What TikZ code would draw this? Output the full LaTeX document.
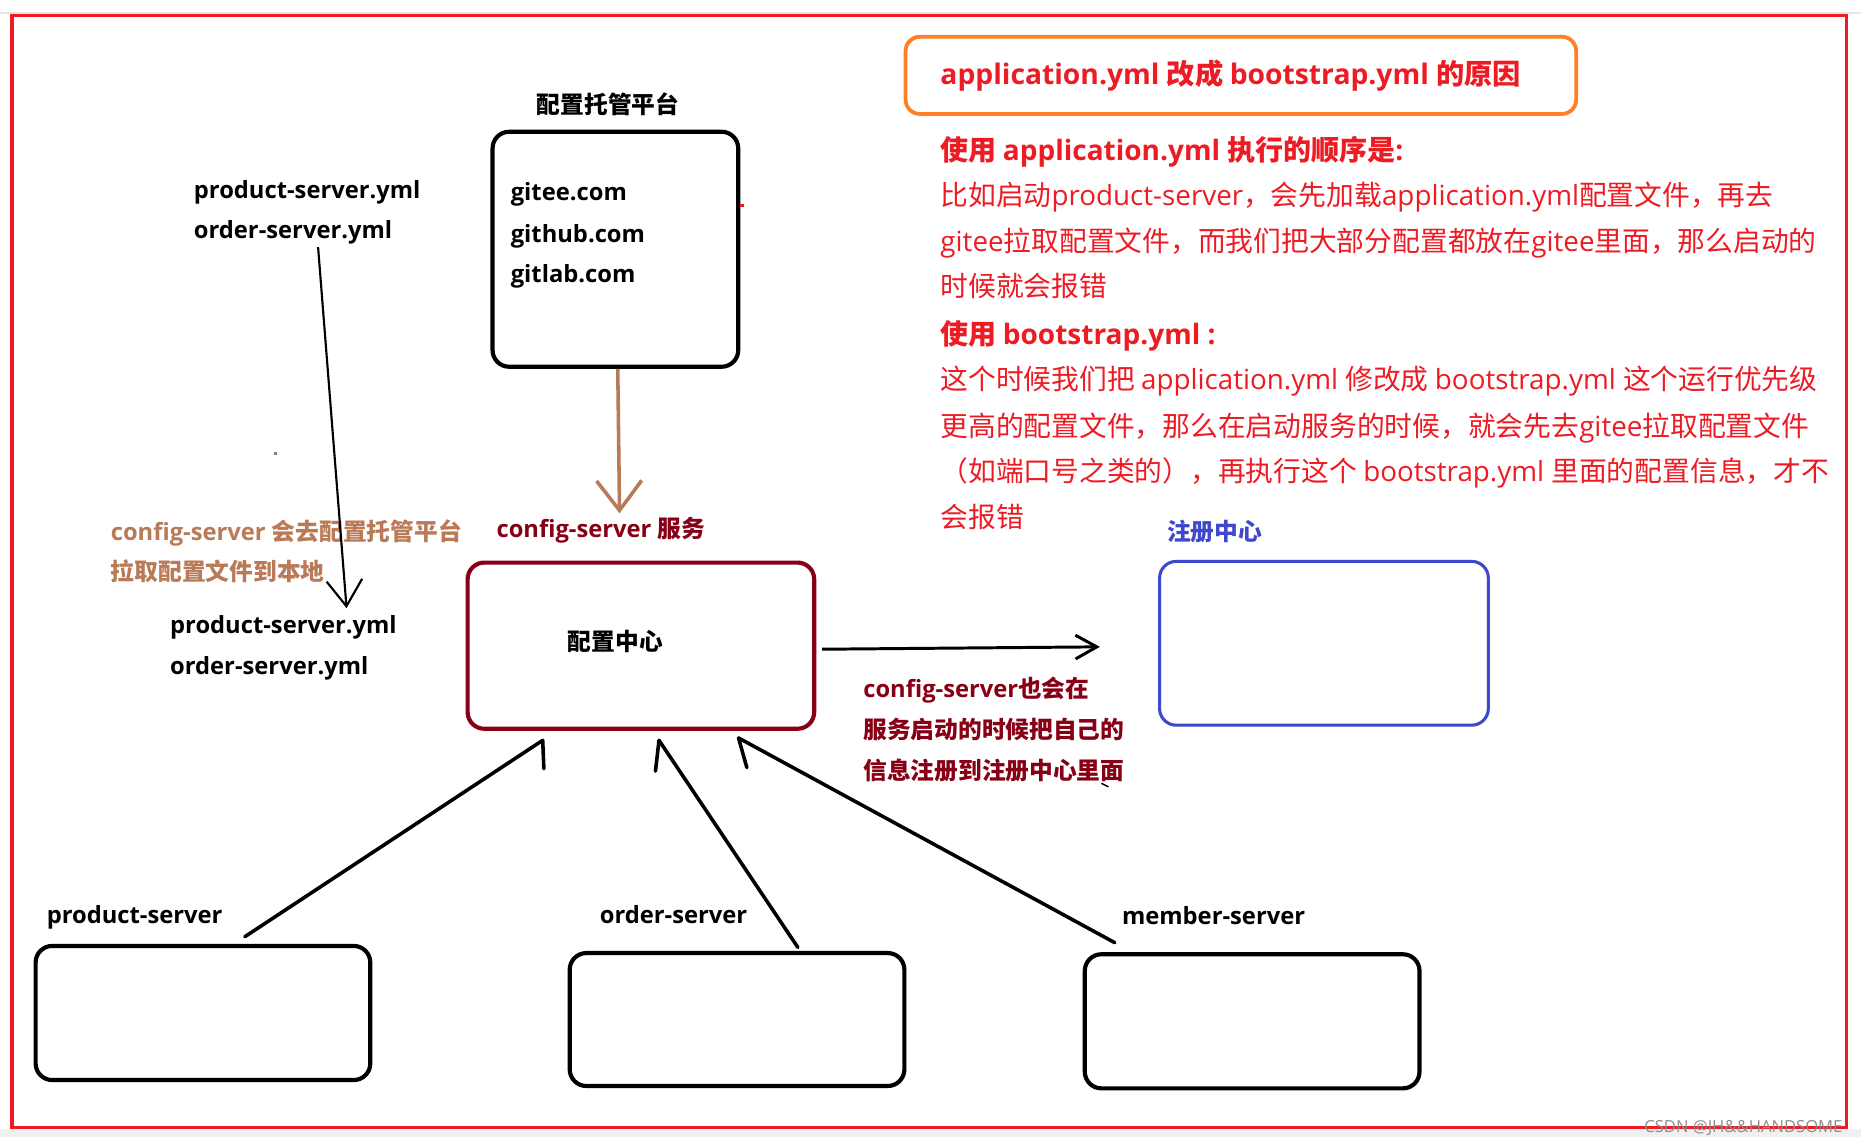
\documentclass[tikz,border=0pt]{standalone}
\usepackage{fontspec}
\setmainfont{Open Sans}
\newfontfamily\latfam{Open Sans}
\newfontfamily\cjkfam{Noto Sans CJK SC}
\usetikzlibrary{arrows.meta,calc}
% automatic switch between Latin and CJK fonts
\XeTeXinterchartokenstate=1
\newXeTeXintercharclass\cjkcls
\newcount\cjkcnt
\cjkcnt="2E80
\loop\ifnum\cjkcnt<"A000 \XeTeXcharclass\cjkcnt=\cjkcls \advance\cjkcnt by 1 \repeat
\cjkcnt="FF00
\loop\ifnum\cjkcnt<"FFF0 \XeTeXcharclass\cjkcnt=\cjkcls \advance\cjkcnt by 1 \repeat
\XeTeXinterchartoks 0 \cjkcls = {\cjkfam}
\XeTeXinterchartoks 4095 \cjkcls = {\cjkfam}
\XeTeXinterchartoks \cjkcls 0 = {\latfam}
\XeTeXinterchartoks 4095 0 = {\latfam}
\definecolor{framered}{HTML}{ED1C24}
\definecolor{txtred}{HTML}{ED1C24}
\definecolor{orng}{HTML}{FF7F27}
\definecolor{brwn}{HTML}{B97A57}
\definecolor{dred}{HTML}{880015}
\definecolor{indg}{HTML}{3F48CC}
\tikzset{
  bx/.style={rectangle, rounded corners=7pt, inner sep=0pt, line width=1.75pt},
  txt/.style={inner sep=0pt, anchor=base west},
  lbl/.style={txt, font=\fontsize{10pt}{12pt}\selectfont\latfam\bfseries},
  bodyr/.style={txt, text=txtred, font=\fontsize{11.7pt}{14pt}\selectfont\latfam},
  bodyb/.style={txt, text=txtred, font=\fontsize{11.8pt}{14pt}\selectfont\latfam\bfseries},
  blkarrow/.style={line width=1.5pt, line join=round, line cap=round},
}
\begin{document}
\begin{tikzpicture}[x=0.5pt,y=-0.5pt]
\useasboundingbox (0,0) rectangle (1568,964);
\fill[white] (0,0) rectangle (1568,964);
\fill[black!10] (0,10) rectangle (1568,12);
\fill[black!6] (0,951) rectangle (1568,958);
\draw[framered, line width=1.4pt] (10,13) rectangle (1556,950);

% boxes
\node[bx, draw=orng, line width=1.6pt, rounded corners=6pt, minimum width=282.5pt, minimum height=32.5pt] (titlebox) at (1045.5,63.5) {};
\node[bx, draw=black, minimum width=103.5pt, minimum height=99pt] (gitbox) at (518.5,210) {};
\node[bx, draw=dred, minimum width=146pt, minimum height=70pt] (cfgbox) at (540,544) {};
\node[bx, draw=indg, line width=1.3pt, minimum width=138.5pt, minimum height=69pt] (regbox) at (1115.5,542) {};
\node[bx, draw=black, minimum width=141pt, minimum height=56.5pt] (prodbox) at (171,853.5) {};
\node[bx, draw=black, minimum width=141pt, minimum height=56pt] (ordbox) at (621,859) {};
\node[bx, draw=black, minimum width=141pt, minimum height=56.5pt] (membox) at (1055,860.5) {};

% explanation text
\node[txt, text=txtred, font=\fontsize{11.9pt}{15pt}\selectfont\latfam\bfseries] (title) at (792,71) {application.yml 改成 bootstrap.yml 的原因};
\node[bodyb] (h1) at (792,135) {使用 application.yml 执行的顺序是:};
\node[bodyr] (r1) at (792,173.5) {比如启动product-server，会先加载application.yml配置文件，再去};
\node[bodyr] (r2) at (792,211.5) {gitee拉取配置文件，而我们把大部分配置都放在gitee里面，那么启动的};
\node[bodyr] (r3) at (792,249.5) {时候就会报错};
\node[bodyb] (h2) at (792,290) {使用 bootstrap.yml :};
\node[bodyr] (r4) at (792,328.5) {这个时候我们把 application.yml 修改成 bootstrap.yml 这个运行优先级};
\node[bodyr] (r5) at (792,367.5) {更高的配置文件，那么在启动服务的时候，就会先去gitee拉取配置文件};
\node[bodyr] (r6) at (792,405.5) {（如端口号之类的），再执行这个 bootstrap.yml 里面的配置信息，才不};
\node[bodyr] (r7) at (792,444.5) {会报错};

% diagram labels
\node[lbl] (gitlbl) at (452,95.4) {配置托管平台};
\node[lbl] (g1) at (430,169) {gitee.com};
\node[lbl] (g2) at (430,204) {github.com};
\node[lbl] (g3) at (430,238) {gitlab.com};
\node[lbl] (topyml1) at (163,167) {product-server.yml};
\node[lbl] (topyml2) at (163,201) {order-server.yml};
\node[lbl, text=brwn] (pull1) at (93,455) {config-server 会去配置托管平台};
\node[lbl, text=brwn] (pull2) at (93,489) {拉取配置文件到本地};
\node[lbl] (botyml1) at (143,534) {product-server.yml};
\node[lbl] (botyml2) at (143,568) {order-server.yml};
\node[lbl, text=dred] (cfglbl) at (418,453) {config-server 服务};
\node[lbl] (cfgtxt) at (478,548) {配置中心};
\node[lbl, text=indg] (reglbl) at (983,455) {注册中心};
\node[lbl, text=dred] (n1) at (727,588) {config-server也会在};
\node[lbl, text=dred] (n2) at (727,622) {服务启动的时候把自己的};
\node[lbl, text=dred] (n3) at (727,657) {信息注册到注册中心里面};
\node[lbl] (prodlbl) at (39,778) {product-server};
\node[lbl] (ordlbl) at (505,778) {order-server};
\node[lbl] (memlbl) at (945,779) {member-server};
\node[txt, text=black!45, font=\fontsize{7pt}{8pt}\selectfont\latfam] (wm) at (1385,954) {CSDN @JH\&\&HANDSOME};

% small marks
\fill[framered] (623.5,171.5) rectangle (626.5,174.5);
\fill[black!50] (231,381) rectangle (233,383);
\draw[black, line width=0.6pt] (928,660) -- (934,663);

% connectors
\draw[brwn, line width=1.5pt, -{Straight Barb[length=12.5pt,width=19pt]}] ([xshift=1pt]gitbox.south) -- ($(cfglbl.north west)+(104,-3)$);
\draw[line width=0.9pt, -{Straight Barb[length=11pt,width=15pt]}] ($(topyml2.south west)+(105,2)$) -- ($(botyml1.north west)+(149,-6)$);
\draw[line width=1.25pt, -{Straight Barb[length=9pt,width=10pt]}] ($(cfgbox.east)+(5,3)$) -- ($(regbox.west)+(-49,3)$);
\draw[blkarrow] ($(prodbox.north west)+(178,-6)$) -- ($(cfgbox.south west)+(65,8)$) -- ++(1,24);
\draw[blkarrow] ($(ordbox.north west)+(194,-3)$) -- ($(cfgbox.south west)+(163,8)$) -- ++(-3,26);
\draw[blkarrow] ($(membox.north west)+(27,-8)$) -- ($(cfgbox.south west)+(230,6)$) -- ++(7,25);
\end{tikzpicture}
\end{document}
